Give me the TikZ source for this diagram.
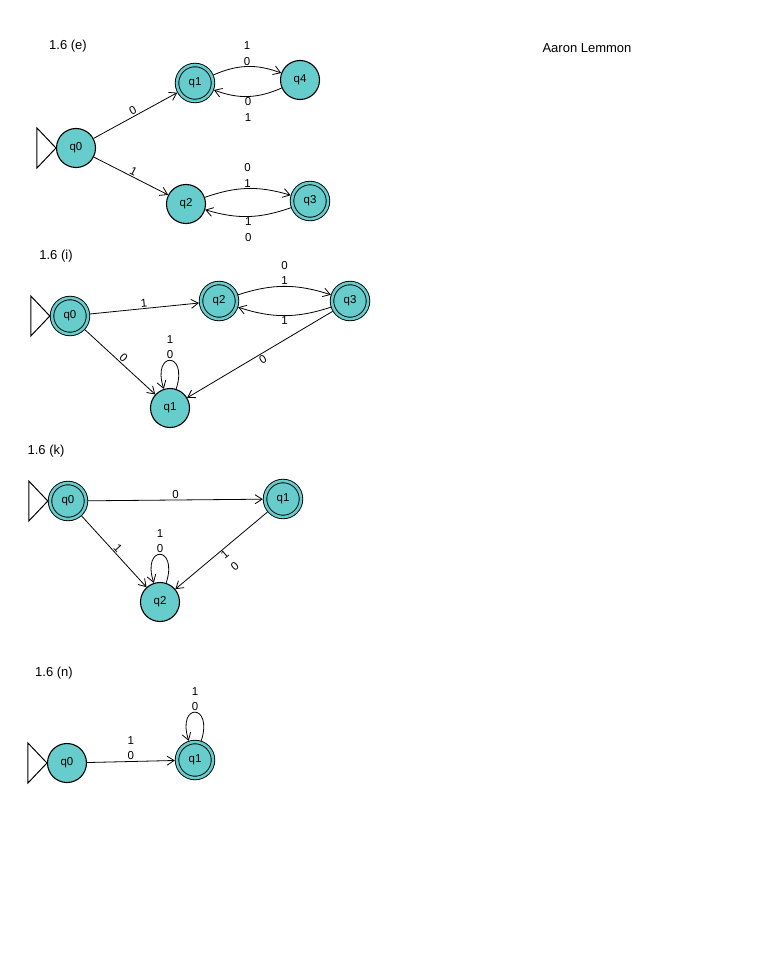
\documentclass[tikz,border=0pt]{standalone}
\usepackage{fontspec}
\setmainfont{Liberation Sans}
\usetikzlibrary{arrows.meta}
\tikzset{>={Straight Barb[length=7pt, width=9pt]}}
\definecolor{statefill}{HTML}{66CCCC}
\tikzstyle{dfastate} = [circle, draw, line width=1.1pt, fill=statefill, minimum size=39pt, inner sep=0pt, font=\fontsize{11.5}{13}\selectfont]
\tikzstyle{accept} = [dfastate, minimum size=36pt, double=statefill, double distance=2.6pt, line width=0.9pt, outer sep=2.2pt]
\tikzstyle{trans} = [->, line width=0.8pt]
\tikzstyle{lbl} = [font=\fontsize{11.5}{15.5}\selectfont, align=center, inner sep=1pt]
\tikzstyle{initmark} = [line width=1pt]
\tikzstyle{heading} = [font=\fontsize{13}{15}\selectfont]

\begin{document}
\begin{tikzpicture}[x=1pt, y=-1pt]
\useasboundingbox (0, 0) rectangle (768, 960);

\node [heading] (te) at (68, 46) {1.6 (e)};
\node [heading] (name) at (587, 48) {Aaron Lemmon};
\node [dfastate] (e0) at (76, 148) {q0};
\node [accept] (e1) at (195, 83) {q1};
\node [dfastate] (e4) at (300, 80) {q4};
\node [dfastate] (e2) at (186, 204) {q2};
\node [accept] (e3) at (310, 201) {q3};
\draw [initmark] (e0.west) -- ++(-19, 20) -- ++(0, -40) -- cycle;
\draw [trans] (e0) to node [lbl, above, sloped] {0} (e1);
\draw [trans] (e0) to node [lbl, above, sloped] {1} (e2);
\draw [trans, bend left=22] (e1) to node [lbl, above] {1\\0} (e4);
\draw [trans, bend left=22] (e4) to node [lbl, below] {0\\1} (e1);
\draw [trans, bend left=18] (e2) to node [lbl, above] {0\\1} (e3);
\draw [trans, bend left=18] (e3) to node [lbl, below] {1\\0} (e2);

\node [heading] (ti) at (56, 256) {1.6 (i)};
\node [accept] (i0) at (70, 316) {q0};
\node [accept] (i2) at (219, 301) {q2};
\node [accept] (i3) at (350, 301) {q3};
\node [dfastate] (i1) at (170, 408) {q1};
\draw [initmark] (i0.west) -- ++(-19, 20) -- ++(0, -40) -- cycle;
\draw [trans] (i0) to node [lbl, above, sloped] {1} (i2);
\draw [trans, bend left=18] (i2) to node [lbl, above] {0\\1} (i3);
\draw [trans, bend left=18] (i3) to node [lbl, below] {1} (i2);
\draw [trans] (i0) to node [lbl, above, sloped] {0} (i1);
\draw [trans] (i3) to node [lbl, below, sloped] {0} (i1);
\draw [trans] (i1) to [out=72, in=108, min distance=40pt] node [lbl, above] {1\\0} (i1);

\node [heading] (tk) at (46, 451) {1.6 (k)};
\node [accept] (k0) at (68, 501) {q0};
\node [accept] (k1) at (283, 499) {q1};
\node [dfastate] (k2) at (160, 602) {q2};
\draw [initmark] (k0.west) -- ++(-19, 20) -- ++(0, -40) -- cycle;
\draw [trans] (k0) to node [lbl, above] {0} (k1);
\draw [trans] (k0) to node [lbl, above, sloped] {1} (k2);
\draw [trans] (k1) to node [lbl, below, sloped] {1\\0} (k2);
\draw [trans] (k2) to [out=72, in=108, min distance=40pt] node [lbl, above] {1\\0} (k2);

\node [heading] (tn) at (54, 673) {1.6 (n)};
\node [dfastate] (n0) at (67, 763) {q0};
\node [accept] (n1) at (195, 760) {q1};
\draw [initmark] (n0.west) -- ++(-19, 20) -- ++(0, -40) -- cycle;
\draw [trans] (n0) to node [lbl, above] {1\\0} (n1);
\draw [trans] (n1) to [out=72, in=108, min distance=40pt] node [lbl, above] {1\\0} (n1);
\end{tikzpicture}
\end{document}
